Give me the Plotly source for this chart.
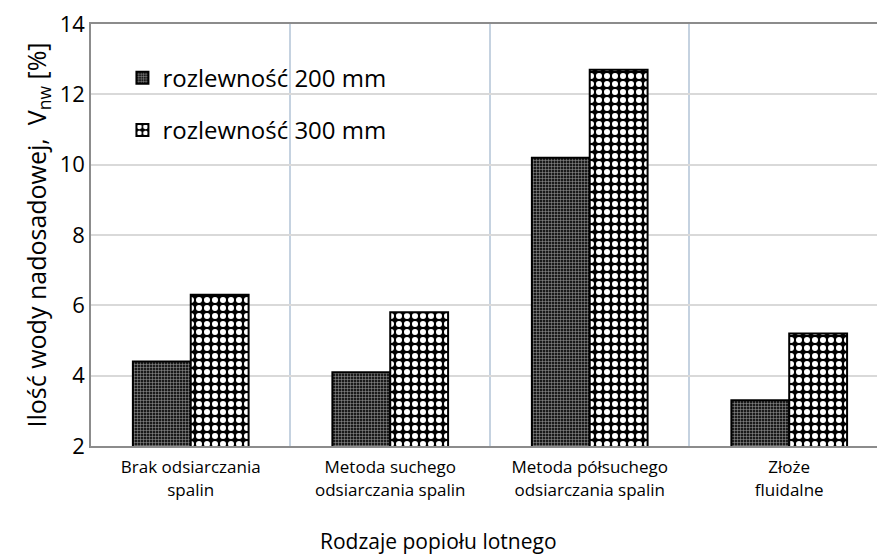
import plotly.graph_objects as go

categories = ["Brak odsiarczania<br>spalin", "Metoda suchego<br>odsiarczania spalin",
              "Metoda półsuchego<br>odsiarczania spalin", "Złoże<br>fluidalne"]
series_names = ["rozlewność 200 mm", "rozlewność 300 mm"]
values_200 = [4.4, 4.1, 10.2, 3.3]
values_300 = [6.3, 5.8, 12.7, 5.2]
y_ticks = [2, 4, 6, 8, 10, 12, 14]

xpos = list(range(len(categories)))
font = "Open Sans, Noto Sans, sans-serif"

fig = go.Figure()
fig.add_trace(go.Bar(
    x=xpos, y=values_200, name=series_names[0], legendgroup="a",
    marker=dict(color="#1a1a1a", line=dict(color="black", width=2),
                pattern=dict(shape="+", fgcolor="#a0a0a0", bgcolor="#1a1a1a", fgopacity=1,
                             size=3, solidity=0.3)),
))
fig.add_trace(go.Bar(
    x=xpos, y=values_300, name=series_names[1], legendgroup="b",
    marker=dict(color="black", line=dict(color="black", width=2),
                pattern=dict(shape=".", fgcolor="white", bgcolor="black", fgopacity=1,
                             fillmode="replace", size=8, solidity=0.45)),
))

fig.update_layout(
    width=877, height=559,
    margin=dict(l=91, r=0, t=24, b=113),
    plot_bgcolor="white", paper_bgcolor="white",
    barmode="group", bargap=0.42, bargroupgap=0,
    font=dict(family=font, color="black"),
    showlegend=True,
    legend=dict(x=0.04, y=0.925, xanchor="left", yanchor="top",
                font=dict(size=24, family=font), bgcolor="rgba(0,0,0,0)",
                traceorder="grouped", tracegroupgap=18, itemwidth=30),
    xaxis=dict(range=[-0.5, 3.44], tickmode="array", tickvals=xpos, ticktext=categories,
               tickfont=dict(size=17), showgrid=False, showline=True, linecolor="#8c8c8c",
               linewidth=2, mirror=True, ticks="", zeroline=False, ticklabelstandoff=5,
               minor=dict(tickmode="array", tickvals=[0.5, 1.5, 2.5], showgrid=True,
                          gridcolor="#c5d2e0", gridwidth=1.5, ticks="")),
    yaxis=dict(range=[2, 14], tickmode="array", tickvals=y_ticks, tickfont=dict(size=22),
               showgrid=True, gridcolor="#d9d9d9", gridwidth=1.5, showline=True,
               linecolor="#8c8c8c", linewidth=1.5, zeroline=False, ticks="", ticklen=0,
               title=dict(text="Ilość wody nadosadowej,  V<sub>nw</sub> [%]",
                          font=dict(size=25), standoff=6)),
    annotations=[dict(text="Rodzaje popiołu lotnego", xref="paper", yref="paper",
                      x=(438 - 91) / 786, y=-0.225, xanchor="center", yanchor="middle",
                      showarrow=False, font=dict(size=21, family=font))],
)

fig.write_html("out.html", config={"displayModeBar": False},
               post_script="document.body.style.margin='0px';")
